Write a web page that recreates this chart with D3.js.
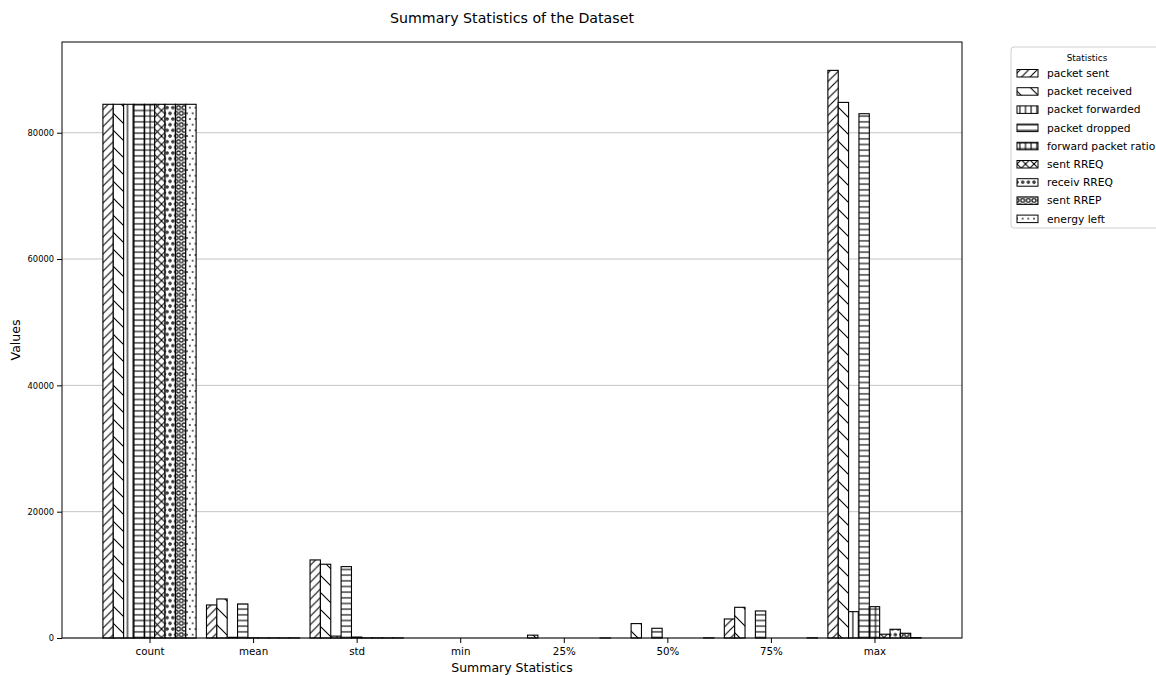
<!DOCTYPE html>
<html>
<head>
<meta charset="utf-8">
<script src="https://cdn.jsdelivr.net/npm/d3@7"></script>
<style>
  body { margin: 0; background: #fff; }
  svg { display: block; font-family: "DejaVu Sans", sans-serif; }
</style>
</head>
<body>
<svg id="chart" width="1156" height="675"></svg>
<script>
// Summary statistics (rows of df.describe()) for each column of the dataset
const categories = ["count", "mean", "std", "min", "25%", "50%", "75%", "max"];
const seriesNames = ["packet sent", "packet received", "packet forwarded", "packet dropped",
  "forward packet ratio", "sent RREQ", "receiv RREQ", "sent RREP", "energy left"];
const hatches = ["//", "\\", "|||", "---", "+++", "xx", "ooo", "OOO", "..."];

const packetSent         = [84500, 5230, 12360, 0, 0,   0,    3010, 89870];
const packetReceived     = [84500, 6180, 11680, 0, 450, 2280, 4860, 84800];
const packetForwarded    = [84500, 110,  300,   0, 0,   0,    0,    4170];
const packetDropped      = [84500, 5390, 11300, 0, 0,   1540, 4280, 83010];
const forwardPacketRatio = [84500, 25,   150,   0, 0,   0,    0,    4960];
const sentRREQ           = [84500, 8,    12,    0, 0,   0,    0,    600];
const receivRREQ         = [84500, 15,   25,    0, 0,   0,    0,    1380];
const sentRREP           = [84500, 6,    10,    0, 0,   0,    0,    750];
const energyLeft         = [84500, 20,   15,    0, 5,   20,   30,   60];

const yTicks = [0, 20000, 40000, 60000, 80000];

const seriesValues = [packetSent, packetReceived, packetForwarded, packetDropped,
  forwardPacketRatio, sentRREQ, receivRREQ, sentRREP, energyLeft];

// ---- layout ----
const plot = { left: 62, right: 962, top: 42, bottom: 638 };
const barWidth = 0.1;          // in category units
const hatchUnit = 17;          // px per hatch repeat for a single hatch character
const lw = 1.1;

const svg = d3.select("#chart");
const defs = svg.append("defs");

// bars are centred at j + i*barWidth, ticks sit at the middle of each group
const tickOffset = barWidth * seriesNames.length / 2;
const barLeft = (j, i) => j + i * barWidth - barWidth / 2;
const dataMin = barLeft(0, 0);
const dataMax = barLeft(categories.length - 1, seriesNames.length - 1) + barWidth;
const xPad = (dataMax - dataMin) * 0.05;

const x = d3.scaleLinear().domain([dataMin - xPad, dataMax + xPad]).range([plot.left, plot.right]);
const yMax = d3.max(seriesValues.flat());
const y = d3.scaleLinear().domain([0, yMax * 1.05]).range([plot.bottom, plot.top]);

// ---- hatch patterns (matplotlib-like) ----
function makePattern(id, hatch) {
  const ch = hatch[0];
  const n = hatch.length;
  const s = hatchUnit / n;
  const pw = s, ph = "oO.".includes(ch) ? 2 * s : s;
  const p = defs.append("pattern").attr("id", id)
    .attr("patternUnits", "userSpaceOnUse")
    .attr("width", pw).attr("height", ph);
  p.append("rect").attr("width", pw).attr("height", ph).attr("fill", "#fff");
  const addPath = d => p.append("path").attr("d", d)
    .attr("stroke", "#000").attr("stroke-width", lw).attr("fill", "none");
  const fwd = `M${-s},${s} L${s},${-s} M0,${s} L${s},0 M0,${2 * s} L${2 * s},0`;
  const back = `M${-s},0 L${s},${2 * s} M0,0 L${s},${s} M0,${-s} L${2 * s},${s}`;
  if (ch === "/") addPath(fwd);
  else if (ch === "\\") addPath(back);
  else if (ch === "|") addPath(`M${s / 2},0 V${s}`);
  else if (ch === "-") addPath(`M0,${s / 2} H${s}`);
  else if (ch === "+") addPath(`M${s / 2},0 V${s} M0,${s / 2} H${s}`);
  else if (ch === "x") { addPath(fwd); addPath(back); }
  else {
    const size = ch === "o" ? 0.2 : ch === "O" ? 0.35 : 0.1;
    const r = size * s;
    const pts = [[0, 0], [s, 0], [0, 2 * s], [s, 2 * s], [s / 2, s]];
    pts.forEach(([cx, cy]) => {
      const c = p.append("circle").attr("cx", cx).attr("cy", cy).attr("r", r);
      if (ch === ".") c.attr("fill", "#000").attr("stroke", "#000").attr("stroke-width", lw * 0.6);
      else c.attr("fill", "none").attr("stroke", "#000").attr("stroke-width", lw);
    });
  }
}
hatches.forEach((h, i) => makePattern("hatch" + i, h));

// ---- title ----
svg.append("text").attr("x", (plot.left + plot.right) / 2).attr("y", 23)
  .attr("text-anchor", "middle").attr("font-size", 14.2).attr("fill", "#000")
  .text("Summary Statistics of the Dataset");

// ---- grid ----
svg.append("g").selectAll("line").data(yTicks).join("line")
  .attr("x1", plot.left).attr("x2", plot.right)
  .attr("y1", d => y(d)).attr("y2", d => y(d))
  .attr("stroke", "#c4c4c4").attr("stroke-width", 1);

// ---- bars ----
const barsG = svg.append("g");
seriesValues.forEach((vals, i) => {
  barsG.append("g").selectAll("rect").data(vals).join("rect")
    .attr("x", (d, j) => x(barLeft(j, i)))
    .attr("width", x(barWidth) - x(0))
    .attr("y", d => y(d))
    .attr("height", d => y(0) - y(d))
    .attr("fill", `url(#hatch${i})`)
    .attr("stroke", "#000").attr("stroke-width", lw);
});

// ---- axes ----
const xAxis = d3.axisBottom(x)
  .tickValues(categories.map((c, j) => barLeft(j, 0) + tickOffset))
  .tickFormat((d, j) => categories[j]).tickSizeOuter(0).tickSize(5).tickPadding(5);
const gx = svg.append("g").attr("transform", `translate(0,${plot.bottom})`).call(xAxis);
gx.select(".domain").remove();
gx.selectAll("text").attr("font-size", 10.3).attr("font-family", "DejaVu Sans").attr("fill", "#000");
gx.selectAll("line").attr("stroke", "#000");

const yAxis = d3.axisLeft(y).tickValues(yTicks).tickFormat(d3.format("d"))
  .tickSize(5).tickPadding(3).tickSizeOuter(0);
const gy = svg.append("g").attr("transform", `translate(${plot.left},0)`).call(yAxis);
gy.select(".domain").remove();
gy.selectAll("text").attr("font-size", 8.3).attr("font-family", "DejaVu Sans").attr("fill", "#000");
gy.selectAll("line").attr("stroke", "#000");

// frame
svg.append("rect").attr("x", plot.left).attr("y", plot.top)
  .attr("width", plot.right - plot.left).attr("height", plot.bottom - plot.top)
  .attr("fill", "none").attr("stroke", "#000").attr("stroke-width", 1);

// axis labels
svg.append("text").attr("x", (plot.left + plot.right) / 2).attr("y", 672)
  .attr("text-anchor", "middle").attr("font-size", 12.5).text("Summary Statistics");
svg.append("text").attr("transform", `translate(20,${(plot.top + plot.bottom) / 2}) rotate(-90)`)
  .attr("text-anchor", "middle").attr("font-size", 12.5).text("Values");

// ---- legend ----
const lg = svg.append("g").attr("transform", "translate(1011,47)");
lg.append("rect").attr("x", 0).attr("y", 0).attr("width", 170).attr("height", 181)
  .attr("rx", 3).attr("fill", "#fff").attr("stroke", "#d0d0d0").attr("stroke-width", 1);
lg.append("text").attr("x", 76).attr("y", 13.5).attr("text-anchor", "middle")
  .attr("font-size", 8.9).text("Statistics");
const rows = lg.selectAll("g.row").data(seriesNames).join("g").attr("class", "row")
  .attr("transform", (d, i) => `translate(6,${26 + i * 18.2})`);
rows.append("rect").attr("x", 0).attr("y", -3.5).attr("width", 21).attr("height", 7.5)
  .attr("fill", (d, i) => `url(#hatch${i})`).attr("stroke", "#000").attr("stroke-width", 1);
rows.append("text").attr("x", 30).attr("y", 4).attr("font-size", 10.7).text(d => d);
</script>
</body>
</html>
